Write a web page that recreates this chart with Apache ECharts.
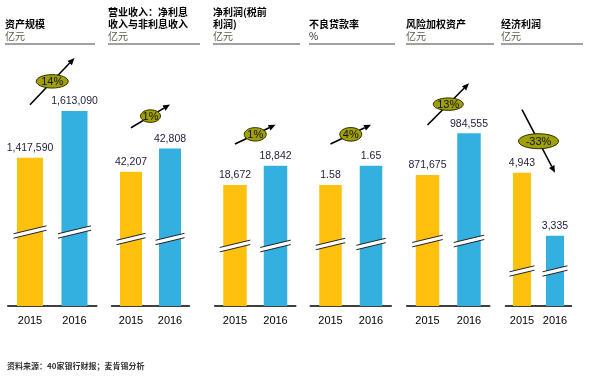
<!DOCTYPE html>
<html>
<head>
<meta charset="utf-8">
<script src="https://cdn.jsdelivr.net/npm/echarts@6/dist/echarts.min.js"></script>
<style>
    html, body { margin: 0; padding: 0; background: #fff; }
    #chart { width: 592px; height: 377px; }
</style>
</head>
<body>
<div id="chart"></div>
<script>
const categories = ['2015', '2016'];
const panelTitles = ['资产规模', '营业收入：净利息\n收入与非利息收入', '净利润(税前\n利润)', '不良贷款率', '风险加权资产', '经济利润'];
const panelUnits = ['亿元', '亿元', '亿元', '%', '亿元', '亿元'];
const values2015 = [1417590, 42207, 18672, 1.58, 871675, 4943];
const values2016 = [1613090, 42808, 18842, 1.65, 984555, 3335];
const growthLabels = ['14%', '1%', '1%', '4%', '13%', '-33%'];
const sourceNote = '资料来源：40家银行财报；麦肯锡分析';

// truncated value axes (the slanted break marks show the cut)
const axisMin = [796800, 38729, 17606, 1.1411, 517075, 1541];
const axisMax = [1868400, 45359, 19861, 2.0696, 1210075, 8074];

// layout
const gridLeft = [7.75, 111.5, 214.75, 310.25, 406.75, 505.5];
const gridWidth = [89, 78, 81, 81, 83, 66];
const barWidths = [26, 22, 23.5, 22.5, 23.5, 18];
const headerLeft = [5, 108, 213, 309, 406, 501];
const headerWidth = [90, 92, 87, 86, 88, 82];
const breakLift = [74, 67, 60, 62, 65, 35];
const arrowLift = [53, 44, 41, 41, 50, 63];
const badgeRx = [16, 10, 11, 11, 15, 20];
const badgeRy = [6.7, 6.3, 6.7, 6.8, 6.2, 7.5];

const ORANGE = '#FFC10E';
const BLUE = '#33AFE0';
const LATIN = '"Liberation Sans", Arial, sans-serif';
const CJK = '"Noto Sans CJK SC", sans-serif';

const chart = echarts.init(document.getElementById('chart'));

const grids = [], xAxes = [], yAxes = [], series = [], graphics = [];

panelTitles.forEach((title, p) => {
    grids.push({ left: gridLeft[p], width: gridWidth[p], top: 50, bottom: 71 });
    xAxes.push({
        type: 'category',
        gridIndex: p,
        data: categories,
        axisLine: { lineStyle: { color: '#000', width: 1.5 } },
        axisTick: { show: false },
        axisLabel: { color: '#000', fontSize: 11, fontFamily: LATIN, margin: 9 }
    });
    yAxes.push({
        type: 'value',
        gridIndex: p,
        min: axisMin[p],
        max: axisMax[p],
        show: false,
        splitLine: { show: false }
    });

    series.push({
        type: 'bar',
        xAxisIndex: p,
        yAxisIndex: p,
        barWidth: barWidths[p],
        z: 2,
        label: {
            show: true,
            position: 'top',
            distance: 4,
            color: '#1c1c3c',
            fontSize: 10.5,
            fontFamily: LATIN,
            formatter: (d) => d.value.toLocaleString('en-US', { maximumFractionDigits: 2 })
        },
        data: [
            { value: values2015[p], itemStyle: { color: ORANGE } },
            { value: values2016[p], itemStyle: { color: BLUE } }
        ]
    });

    // break marks on the bars
    series.push({
        type: 'custom',
        xAxisIndex: p,
        yAxisIndex: p,
        z: 3,
        silent: true,
        encode: { x: 0, y: 1 },
        data: [[0, axisMin[p]], [1, axisMin[p]]],
        renderItem(params, api) {
            const base = api.coord([api.value(0), api.value(1)]);
            const cx = base[0];
            const cy = base[1] - breakLift[p];
            const hw = barWidths[p] / 2 + 3.5;
            const dy = hw * 0.24;
            const t = 2.2;
            return {
                type: 'group',
                children: [
                    {
                        type: 'polygon',
                        shape: { points: [[cx - hw, cy + dy - t], [cx + hw, cy - dy - t], [cx + hw, cy - dy + t], [cx - hw, cy + dy + t]] },
                        style: { fill: '#fff' }
                    },
                    {
                        type: 'line',
                        shape: { x1: cx - hw, y1: cy + dy - t, x2: cx + hw, y2: cy - dy - t },
                        style: { stroke: '#222', lineWidth: 1 }
                    },
                    {
                        type: 'line',
                        shape: { x1: cx - hw, y1: cy + dy + t, x2: cx + hw, y2: cy - dy + t },
                        style: { stroke: '#222', lineWidth: 1 }
                    }
                ]
            };
        }
    });

    // growth arrow with badge
    series.push({
        type: 'custom',
        xAxisIndex: p,
        yAxisIndex: p,
        z: 4,
        silent: true,
        encode: { x: [0, 2], y: [1, 3] },
        data: [[0, values2015[p], 1, values2016[p]]],
        renderItem(params, api) {
            const a = api.coord([api.value(0), api.value(1)]);
            const b = api.coord([api.value(2), api.value(3)]);
            const x1 = a[0], y1 = a[1] - arrowLift[p];
            const x2 = b[0], y2 = b[1] - arrowLift[p];
            const ang = Math.atan2(y2 - y1, x2 - x1);
            const hl = 7, hwid = 3;
            const bx = x2 - hl * Math.cos(ang), by = y2 - hl * Math.sin(ang);
            const nx = -Math.sin(ang) * hwid, ny = Math.cos(ang) * hwid;
            const mx = (x1 + x2) / 2, my = (y1 + y2) / 2;
            return {
                type: 'group',
                children: [
                    {
                        type: 'line',
                        shape: { x1: x1, y1: y1, x2: bx, y2: by },
                        style: { stroke: '#000', lineWidth: 1.6 }
                    },
                    {
                        type: 'polygon',
                        shape: { points: [[x2, y2], [bx + nx, by + ny], [bx - nx, by - ny]] },
                        style: { fill: '#000' }
                    },
                    {
                        type: 'ellipse',
                        shape: { cx: mx, cy: my, rx: badgeRx[p], ry: badgeRy[p] },
                        style: { fill: '#A0A000', stroke: '#2a2a00', lineWidth: 1 }
                    },
                    {
                        type: 'text',
                        style: {
                            text: growthLabels[p],
                            x: mx,
                            y: my + 0.5,
                            align: 'center',
                            verticalAlign: 'middle',
                            font: '11px ' + LATIN,
                            fill: '#111'
                        }
                    }
                ]
            };
        }
    });

    // panel header
    graphics.push({
        type: 'text',
        left: headerLeft[p],
        top: title.indexOf('\n') >= 0 ? 6 : 18,
        style: {
            text: title,
            font: 'bold 10px ' + CJK,
            lineHeight: 12,
            fill: '#000'
        }
    });
    graphics.push({
        type: 'text',
        left: headerLeft[p],
        top: 30,
        style: {
            text: panelUnits[p],
            font: '10px ' + CJK,
            lineHeight: 12,
            fill: panelUnits[p] === '%' ? '#222' : '#5a5a4a'
        }
    });
    graphics.push({
        type: 'line',
        shape: { x1: headerLeft[p], y1: 44, x2: headerLeft[p] + headerWidth[p], y2: 44 },
        style: { stroke: '#808080', lineWidth: 1.5 }
    });
});

graphics.push({
    type: 'text',
    left: 7,
    top: 362,
    style: { text: sourceNote, font: 'bold 8px ' + CJK, fill: '#333' }
});

chart.setOption({
    animation: false,
    grid: grids,
    xAxis: xAxes,
    yAxis: yAxes,
    series: series,
    graphic: graphics
});
</script>
</body>
</html>
